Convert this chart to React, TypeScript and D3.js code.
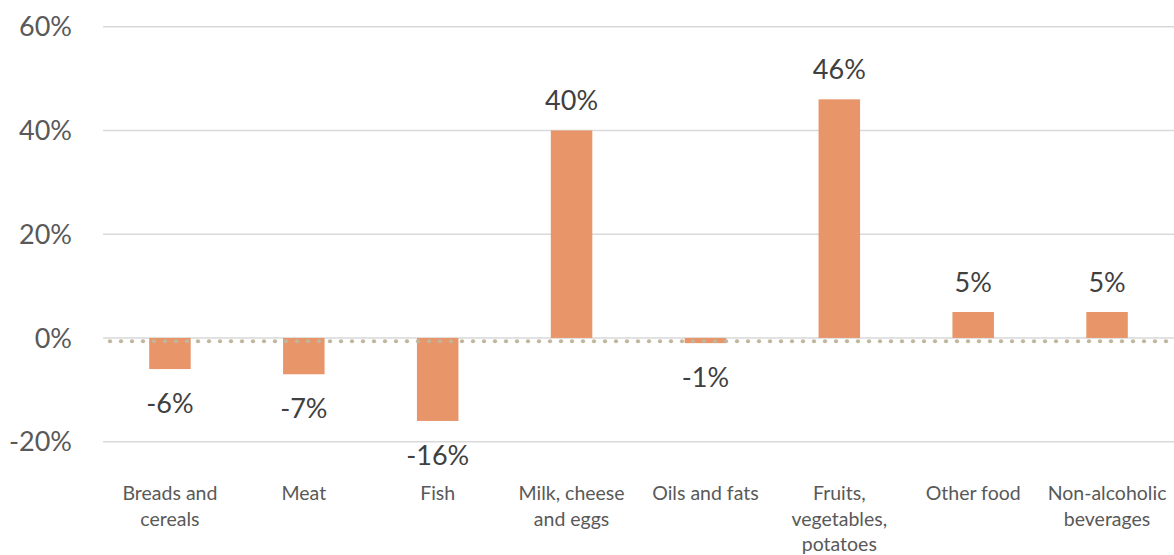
import React from "react";
import * as d3 from "d3";

const categories: string[][] = [
  ["Breads and", "cereals"],
  ["Meat"],
  ["Fish"],
  ["Milk, cheese", "and eggs"],
  ["Oils and fats"],
  ["Fruits,", "vegetables,", "potatoes"],
  ["Other food"],
  ["Non-alcoholic", "beverages"],
];
const values: number[] = [-6, -7, -16, 40, -1, 46, 5, 5];
const yTicks: number[] = [-20, 0, 20, 40, 60];

const W = 1174;
const H = 555;
const plotLeft = 103;
const plotRight = 1174;
const font = "Lato, 'Open Sans', sans-serif";

export default function App() {
  const x = d3
    .scaleBand<number>()
    .domain(values.map((_, i) => i))
    .range([plotLeft, plotRight])
    .paddingInner(0.69)
    .paddingOuter(0.345);
  const y = d3.scaleLinear().domain([-20, 60]).range([441.7, 26.7]);
  const y0 = y(0);
  const dots = d3.range(110, plotRight, 11);

  return (
    <svg width={W} height={H} style={{ position: "absolute", left: 0, top: 0 }}>
      {yTicks.map((t) => (
        <g key={t}>
          <line x1={plotLeft} x2={plotRight} y1={y(t)} y2={y(t)} stroke="#d9d9d9" strokeWidth={1.5} />
          <text
            x={72}
            y={y(t)}
            dy="0.36em"
            textAnchor="end"
            fontFamily={font}
            fontSize={27}
            fill="#595959"
          >
            {t}%
          </text>
        </g>
      ))}
      {values.map((v, i) => {
        const bx = x(i)!;
        const top = v >= 0 ? y(v) : y0;
        const h = Math.abs(y(v) - y0);
        return (
          <g key={i}>
            <rect x={bx} y={top} width={x.bandwidth()} height={h} fill="#E9956A" />
            <text
              x={bx + x.bandwidth() / 2}
              y={v >= 0 ? y(v) - 20 : y(v) + 44}
              textAnchor="middle"
              fontFamily={font}
              fontSize={27}
              fill="#404040"
            >
              {v}%
            </text>
          </g>
        );
      })}
      {dots.map((dx, i) => (
        <circle key={i} cx={dx} cy={y0 + 3.3} r={2.1} fill="#bfb69c" />
      ))}
      {categories.map((lines, i) => (
        <text
          key={i}
          x={x(i)! + x.bandwidth() / 2}
          textAnchor="middle"
          fontFamily={font}
          fontSize={19.5}
          fill="#595959"
        >
          {lines.map((l, j) => (
            <tspan key={j} x={x(i)! + x.bandwidth() / 2} y={500 + j * 25.5}>
              {l}
            </tspan>
          ))}
        </text>
      ))}
    </svg>
  );
}
